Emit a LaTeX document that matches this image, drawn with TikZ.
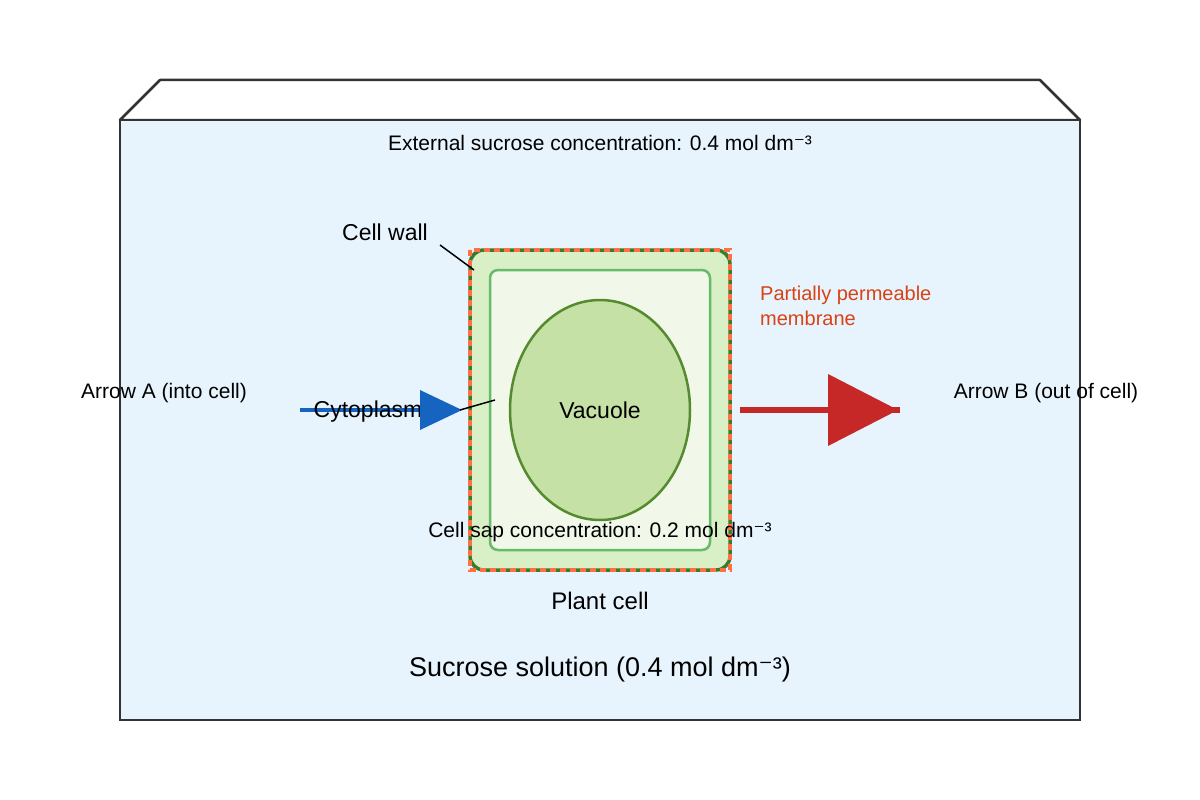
\documentclass[tikz,border=0pt]{standalone}
\usepackage{fontspec}
\setmainfont{Liberation Sans}
\newfontfamily\dvs{DejaVu Sans}
\newcommand{\smin}{{\dvs ⁻}}
\usetikzlibrary{shapes.geometric}
\definecolor{sol}{HTML}{E8F4FD}
\definecolor{wallf}{HTML}{D9EFC5}
\definecolor{walld}{HTML}{3C7A2E}
\definecolor{cytf}{HTML}{F1F8E9}
\definecolor{cytd}{HTML}{66BB6A}
\definecolor{vacf}{HTML}{C5E1A5}
\definecolor{vacd}{HTML}{558B2F}
\definecolor{memb}{HTML}{FF7043}
\definecolor{ablue}{HTML}{1565C0}
\definecolor{ared}{HTML}{C62828}
\definecolor{lbl}{HTML}{D84315}
\tikzset{txt/.style={font=\fontsize{21}{25}\selectfont, inner sep=0pt}}
\begin{document}
\begin{tikzpicture}[x=1pt,y=-1pt]
\useasboundingbox (0,0) rectangle (1200,800);
\fill[white] (0,0) rectangle (1200,800);
\draw[line width=2.5pt,draw={rgb,255:red,51;green,51;blue,51},fill=white,line join=round] (120,120) -- (160,80) -- (1040,80) -- (1080,120) -- cycle;
\draw[line width=2.5pt,draw={rgb,255:red,51;green,51;blue,51},fill=sol] (120,120) rectangle (1080,720);
\node[txt] (ext) at (600,143) {External sucrose concentration: 0.4 mol dm\smin³};
% cell
\draw[line width=3.5pt,draw=walld,fill=wallf,rounded corners=14pt] (470,250) rectangle (730,570);
\draw[line width=3.5pt,draw=memb,dash pattern=on 6pt off 4pt] (470,250) rectangle (730,570);
\draw[line width=2.5pt,draw=cytd,fill=cytf,rounded corners=8pt] (490,270) rectangle (710,550);
\node[ellipse,draw=vacd,line width=2.5pt,fill=vacf,minimum width=180pt,minimum height=220pt,inner sep=0pt] (vac) at (600,410) {};
\node[txt,font=\fontsize{23}{27}\selectfont] at (vac) {Vacuole};
\node[txt] (sap) at (600,532) {Cell sap concentration: 0.2 mol dm\smin³};
\node[txt,font=\fontsize{24}{28}\selectfont] (pc) at (600,601) {Plant cell};
\node[txt,font=\fontsize{27}{32}\selectfont] (sol) at (600,670) {Sucrose solution (0.4 mol dm\smin³)};
% labels
\node[txt,font=\fontsize{23}{27}\selectfont] (cw) at (385,232) {Cell wall};
\coordinate (cwa) at (440,245); \coordinate (cwb) at (474,270);
\draw[line width=1.5pt] (cwa) -- (cwb);
\node[txt,text=lbl,align=left,anchor=west,font=\fontsize{20}{25}\selectfont] (pm) at (760,306) {Partially permeable\\membrane};
\node[txt] (aa) at (164,393) {Arrow A (into cell)};
\node[txt] (ab) at (1046,393) {Arrow B (out of cell)};
% arrows
\coordinate (b1) at (300,410); \coordinate (b2) at (422,410);
\draw[line width=4pt,ablue] (b1) -- (b2);
\node[txt,font=\fontsize{23}{27}\selectfont] (cyt) at (368,412) {Cytoplasm};
\fill[ablue] (420,390) -- (462,410) -- (420,430) -- cycle;
\coordinate (ca) at (460,410); \coordinate (cb) at (495,400);
\draw[line width=1.5pt] (ca) -- (cb);
\coordinate (r1) at (740,410); \coordinate (r2) at (900,410);
\draw[line width=6pt,ared] (r1) -- (r2);
\fill[ared] (828,374) -- (898,410) -- (828,446) -- cycle;
\end{tikzpicture}
\end{document}
